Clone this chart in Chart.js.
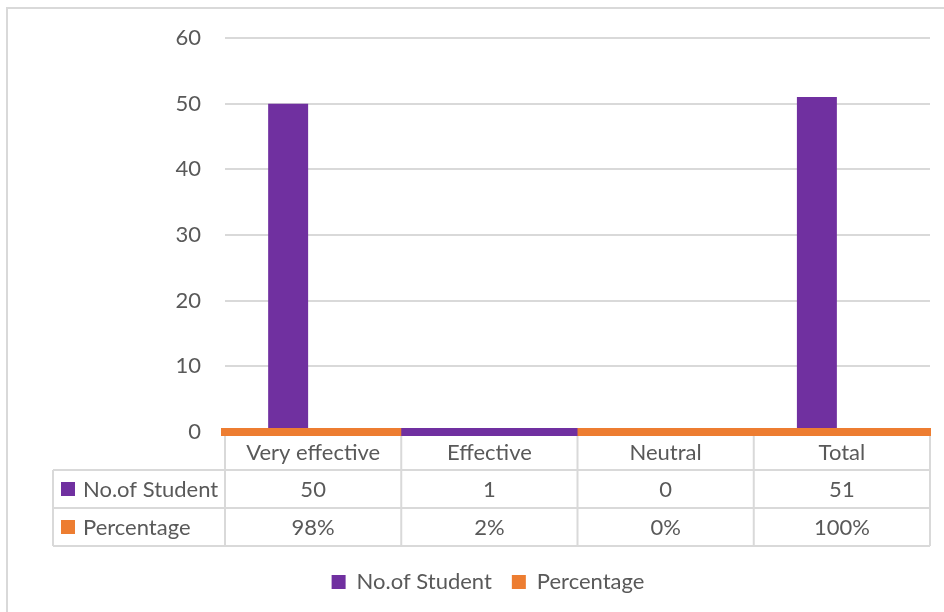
<!DOCTYPE html>
<html>
<head>
<meta charset="utf-8">
<title>No.of Student / Percentage</title>
<script src="https://cdn.jsdelivr.net/npm/chart.js@4.4.0/dist/chart.umd.min.js"></script>
<style>
    html, body { margin: 0; padding: 0; background: #fff; }
    #wrap { position: relative; width: 944px; height: 612px; }
</style>
</head>
<body>
<div id="wrap"><canvas id="chart" width="944" height="612"></canvas></div>
<script>
const categories = ['Very effective', 'Effective', 'Neutral', 'Total'];
const students = [50, 1, 0, 51];
const percentages = [0.98, 0.02, 0, 1];
const percentLabels = ['98%', '2%', '0%', '100%'];
const seriesNames = ['No.of Student', 'Percentage'];
const seriesColors = ['#7030A0', '#ED7D31'];
const yMax = 60;
const yStep = 10;

const TEXT = '#595959';
const LINE = '#d9d9d9';
const FONT = 'Lato';
const BAND = 8;        // thickness of the zero band (px)
const SMALL = 2;       // values below this are folded into the zero band

Chart.defaults.font.family = FONT;
Chart.defaults.font.size = 22;
Chart.defaults.color = TEXT;

// light frame around the chart (left + top edge visible)
const framePlugin = {
    id: 'frame',
    beforeDraw(chart) {
        const ctx = chart.ctx;
        ctx.save();
        ctx.strokeStyle = LINE;
        ctx.lineWidth = 2;
        ctx.beginPath();
        ctx.moveTo(7, 612);
        ctx.lineTo(7, 8);
        ctx.lineTo(944, 8);
        ctx.stroke();
        ctx.restore();
    }
};

// tiny bars show up as a coloured piece of the zero band
const bandPlugin = {
    id: 'zeroBand',
    afterDraw(chart) {
        const x = chart.scales.x, y = chart.scales.y, ctx = chart.ctx;
        const w = x.getPixelForValue(1) - x.getPixelForValue(0);
        const zero = y.getPixelForValue(0);
        ctx.save();
        ctx.fillStyle = seriesColors[0];
        students.forEach((v, i) => {
            if (v > 0 && v < SMALL) {
                const c = x.getPixelForValue(i);
                ctx.fillRect(c - w / 2, zero - BAND / 2, w, BAND);
            }
        });
        ctx.restore();
    }
};

// data table under the axis
const tablePlugin = {
    id: 'dataTable',
    afterDraw(chart) {
        const x = chart.scales.x, y = chart.scales.y, ctx = chart.ctx;
        const w = x.getPixelForValue(1) - x.getPixelForValue(0);
        const zero = y.getPixelForValue(0);
        const left = chart.chartArea.left, right = chart.chartArea.right;
        const tableLeft = left - 172;
        const rowH = 38;
        const headTop = zero + BAND / 2;
        const r1 = zero + rowH, r2 = r1 + rowH, r3 = r2 + rowH;

        ctx.save();
        ctx.strokeStyle = LINE;
        ctx.lineWidth = 2;
        ctx.beginPath();
        [r1, r2, r3].forEach(yy => { ctx.moveTo(tableLeft, yy); ctx.lineTo(right, yy); });
        ctx.moveTo(tableLeft, r1); ctx.lineTo(tableLeft, r3);
        for (let i = 0; i <= categories.length; i++) {
            const xx = x.getPixelForValue(0) - w / 2 + i * w;
            ctx.moveTo(xx, headTop); ctx.lineTo(xx, r3);
        }
        ctx.stroke();

        ctx.font = '22px ' + FONT;
        ctx.textBaseline = 'middle';
        const rows = [
            { name: seriesNames[0], color: seriesColors[0], cells: students.map(v => String(v)), mid: (r1 + r2) / 2 },
            { name: seriesNames[1], color: seriesColors[1], cells: percentLabels, mid: (r2 + r3) / 2 }
        ];
        rows.forEach(r => {
            ctx.fillStyle = r.color;
            ctx.fillRect(tableLeft + 8, r.mid - 7, 14, 14);
            ctx.fillStyle = TEXT;
            ctx.textAlign = 'left';
            ctx.fillText(r.name, tableLeft + 30, r.mid + 1);
            ctx.textAlign = 'center';
            r.cells.forEach((t, i) => ctx.fillText(t, x.getPixelForValue(i), r.mid + 1));
        });
        ctx.restore();
    }
};

const chart = new Chart(document.getElementById('chart'), {
    type: 'bar',
    data: {
        labels: categories,
        datasets: [
            {
                label: seriesNames[0],
                data: students.map(v => v < SMALL ? null : v),
                backgroundColor: seriesColors[0],
                categoryPercentage: 0.567,
                barPercentage: 0.8
            },
            {
                label: seriesNames[1],
                data: percentages.map(v => v < SMALL ? null : v),
                backgroundColor: seriesColors[1],
                categoryPercentage: 0.567,
                barPercentage: 0.8
            }
        ]
    },
    options: {
        responsive: false,
        animation: false,
        layout: { padding: { top: 38, right: 14, bottom: 9, left: 46 } },
        plugins: {
            legend: {
                position: 'bottom',
                labels: { boxWidth: 14, boxHeight: 14, padding: 20, color: TEXT, font: { size: 22 } }
            },
            tooltip: { enabled: false }
        },
        scales: {
            x: {
                grid: { display: false, drawTicks: false },
                border: { display: true, color: seriesColors[1], width: BAND, z: 1 },
                ticks: { padding: 8, color: TEXT, font: { size: 22 } },
                afterFit: (s) => { s.height = 119; }
            },
            y: {
                min: 0,
                max: yMax,
                ticks: { stepSize: yStep, padding: 24, color: TEXT, font: { size: 22 } },
                grid: { color: LINE, lineWidth: 2, drawTicks: false },
                border: { display: false },
                afterFit: (s) => { s.width = 179; }
            }
        }
    },
    plugins: [framePlugin, bandPlugin, tablePlugin]
});
</script>
</body>
</html>
